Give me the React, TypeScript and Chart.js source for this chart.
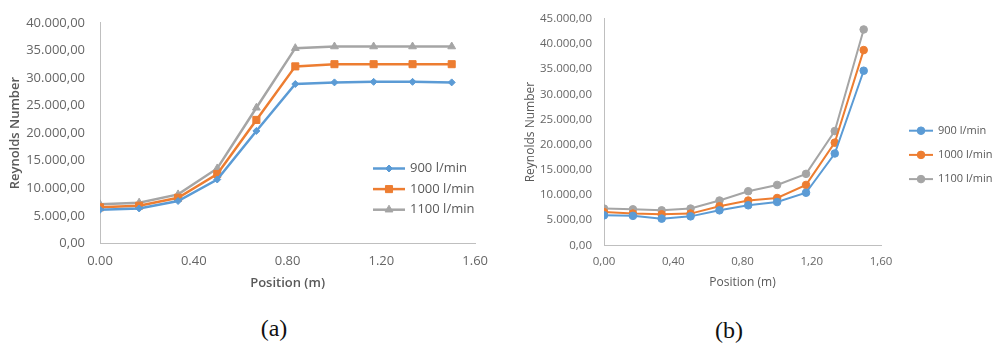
import React, { useEffect, useRef } from 'react';
import { Chart, registerables } from 'chart.js';
import { drawPoint } from 'chart.js/helpers';

Chart.register(...registerables);

// ---------- data ----------
const positions = [0, 0.167, 0.333, 0.5, 0.667, 0.833, 1.0, 1.167, 1.333, 1.5];
const seriesLabels = ['900 l/min', '1000 l/min', '1100 l/min'];

// chart (a)
const re900A = [6100, 6350, 7700, 11600, 20400, 28900, 29200, 29300, 29300, 29200];
const re1000A = [6550, 6850, 8300, 12600, 22400, 32100, 32500, 32500, 32500, 32500];
const re1100A = [7100, 7400, 8900, 13600, 24600, 35400, 35700, 35700, 35700, 35700];

// chart (b)
const re900B = [5950, 5850, 5300, 5750, 6950, 7950, 8600, 10450, 18250, 34700];
const re1000B = [6600, 6300, 6150, 6300, 7750, 8900, 9400, 12000, 20400, 38800];
const re1100B = [7300, 7150, 6950, 7300, 8900, 10750, 12000, 14200, 22700, 42900];

const yMaxA = 40000;
const yMaxB = 45000;
const yStep = 5000;
const xMax = 1.6;
const xStep = 0.4;

const yTitle = 'Reynolds Number';
const xTitle = 'Position (m)';
const captions = ['(a)', '(b)'];

// ---------- helpers ----------
const colors = ['#5b9bd5', '#ed7d31', '#a5a5a5'];

function fmtThousands(v: number): string {
  const s = Math.round(v).toString();
  return s.replace(/\B(?=(\d{3})+(?!\d))/g, '.') + ',00';
}

const inlineLegend = {
  id: 'inlineLegend',
  afterDatasetsDraw(chart: any, _args: any, opts: any) {
    const ctx = chart.ctx;
    ctx.save();
    chart.data.datasets.forEach((ds: any, i: number) => {
      const y = opts.y0 + i * opts.gap;
      ctx.strokeStyle = ds.borderColor;
      ctx.lineWidth = ds.borderWidth;
      ctx.beginPath();
      ctx.moveTo(opts.x0, y);
      ctx.lineTo(opts.x1, y);
      ctx.stroke();
      ctx.fillStyle = ds.pointBackgroundColor;
      ctx.strokeStyle = ds.pointBorderColor;
      ctx.lineWidth = 1;
      drawPoint(
        ctx,
        { pointStyle: ds.pointStyle, radius: ds.pointRadius, rotation: 0, borderWidth: 1 } as any,
        (opts.x0 + opts.x1) / 2,
        y
      );
      ctx.fillStyle = opts.color;
      ctx.font = opts.font;
      ctx.textBaseline = 'middle';
      ctx.textAlign = 'left';
      ctx.fillText(ds.label, opts.textX, y);
    });
    ctx.restore();
  },
};

type ChartSpec = {
  series: number[][];
  pointStyles: string[];
  pointRadii: number[];
  lineWidth: number;
  yMax: number;
  xFormat: (v: number) => string;
  yAxisWidth: number;
  yTickPad: number;
  yTitlePad: number;
  xAxisHeight: number;
  xTickPad: number;
  xTitlePad: number;
  padTop: number;
  padRight: number;
  tickFont: number;
  titleFont: number;
  titleWeight: string;
  legend: any;
};

function ReChart({ spec }: { spec: ChartSpec }) {
  const ref = useRef<HTMLCanvasElement | null>(null);
  useEffect(() => {
    if (!ref.current) return;
    const datasets = spec.series.map((vals, i) => ({
      label: seriesLabels[i],
      data: vals.map((v, j) => ({ x: positions[j], y: v })),
      borderColor: colors[i],
      backgroundColor: colors[i],
      pointBackgroundColor: colors[i],
      pointBorderColor: colors[i],
      pointStyle: spec.pointStyles[i],
      pointRadius: spec.pointRadii[i],
      pointBorderWidth: 1,
      borderWidth: spec.lineWidth,
      tension: 0,
    }));
    const textColor = '#666666';
    const chart = new Chart(ref.current, {
      type: 'line',
      data: { datasets },
      plugins: [inlineLegend as any],
      options: {
        animation: false,
        responsive: false,
        layout: { padding: { top: spec.padTop, right: spec.padRight, left: 0, bottom: 0 } },
        plugins: {
          legend: { display: false },
          tooltip: { enabled: false },
          inlineLegend: spec.legend,
        } as any,
        scales: {
          x: {
            type: 'linear',
            min: 0,
            max: xMax,
            grid: { display: false, drawTicks: false },
            border: { display: true, color: '#bfbfbf', width: 1 },
            ticks: {
              stepSize: xStep,
              padding: spec.xTickPad,
              color: textColor,
              font: { family: 'Open Sans', size: spec.tickFont },
              callback: (v: any) => spec.xFormat(Number(v)),
            },
            title: {
              display: true,
              text: xTitle,
              color: '#595959',
              font: { family: 'Open Sans', size: spec.titleFont, weight: spec.titleWeight as any },
              padding: { top: 0, bottom: spec.xTitlePad },
            },
            afterFit: (s: any) => {
              s.height = spec.xAxisHeight;
            },
          },
          y: {
            min: 0,
            max: spec.yMax,
            grid: { display: false, drawTicks: false },
            border: { display: true, color: '#bfbfbf', width: 1 },
            ticks: {
              stepSize: yStep,
              padding: spec.yTickPad,
              color: textColor,
              font: { family: 'Open Sans', size: spec.tickFont },
              callback: (v: any) => fmtThousands(Number(v)),
            },
            title: {
              display: true,
              text: yTitle,
              color: '#595959',
              font: { family: 'Open Sans', size: spec.titleFont, weight: spec.titleWeight as any },
              padding: { top: spec.yTitlePad, bottom: 0 },
            },
            afterFit: (s: any) => {
              s.width = spec.yAxisWidth;
            },
          },
        },
      },
    });
    return () => chart.destroy();
  }, [spec]);
  return <canvas ref={ref} width={498} height={300} style={{ display: 'block' }} />;
}

const specA: ChartSpec = {
  series: [re900A, re1000A, re1100A],
  pointStyles: ['rectRot', 'rect', 'triangle'],
  pointRadii: [3.5, 5, 4.5],
  lineWidth: 2.5,
  yMax: yMaxA,
  xFormat: (v) => v.toFixed(2),
  yAxisWidth: 100,
  yTickPad: 15,
  yTitlePad: 7,
  xAxisHeight: 56.5,
  xTickPad: 10,
  xTitlePad: 9,
  padTop: 18,
  padRight: 14,
  tickFont: 13,
  titleFont: 13,
  titleWeight: '600',
  legend: {
    x0: 373,
    x1: 405,
    textX: 410,
    y0: 168.5,
    gap: 20.6,
    color: '#595959',
    font: '13px "Open Sans"',
  },
};

const specB: ChartSpec = {
  series: [re900B, re1000B, re1100B],
  pointStyles: ['circle', 'circle', 'circle'],
  pointRadii: [3.8, 3.8, 3.8],
  lineWidth: 2,
  yMax: yMaxB,
  xFormat: (v) => v.toFixed(2).replace('.', ','),
  yAxisWidth: 104,
  yTickPad: 12,
  yTitlePad: 23,
  xAxisHeight: 54.7,
  xTickPad: 10,
  xTitlePad: 10,
  padTop: 16.7,
  padRight: 117,
  tickFont: 11.5,
  titleFont: 12,
  titleWeight: 'normal',
  legend: {
    x0: 409,
    x1: 433,
    textX: 438,
    y0: 130.7,
    gap: 24.2,
    color: '#595959',
    font: '11px "Open Sans"',
  },
};

export default function App() {
  const capStyle: React.CSSProperties = {
    position: 'absolute',
    width: 100,
    textAlign: 'center',
    fontFamily: '"Liberation Serif", "Times New Roman", serif',
    fontSize: 24,
    lineHeight: '28px',
    color: '#111',
  };
  return (
    <div style={{ position: 'absolute', left: 0, top: 0, width: 998, height: 346, background: '#fff' }}>
      <div style={{ position: 'absolute', left: 0, top: 0 }}>
        <ReChart spec={specA} />
      </div>
      <div style={{ position: 'absolute', left: 500, top: 0 }}>
        <ReChart spec={specB} />
      </div>
      <div style={{ ...capStyle, left: 274 - 50, top: 328 - 14 }}>{captions[0]}</div>
      <div style={{ ...capStyle, left: 729 - 50, top: 330 - 14 }}>{captions[1]}</div>
    </div>
  );
}
